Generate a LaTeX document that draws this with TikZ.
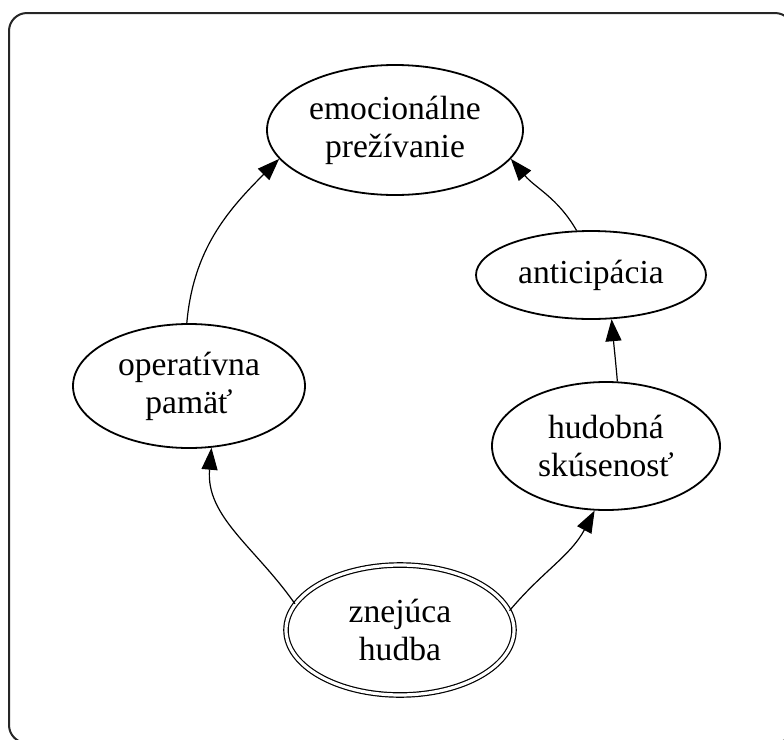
\documentclass[tikz,border=0pt]{standalone}
\usepackage{fontspec}
\setmainfont{Liberation Serif}
\usetikzlibrary{shapes.geometric,arrows.meta}

\begin{document}
\begin{tikzpicture}[x=0.5pt,y=-0.5pt,
	idea/.style={ellipse, draw, line width=0.9pt, inner sep=0pt, align=center,
		font=\fontsize{16.8pt}{19pt}\selectfont},
	link/.style={line width=0.6pt, -{Triangle[length=11pt,width=8pt]}}]
		\clip (0,0) rectangle (784,740);
		\draw[line width=1pt, color=black!85, rounded corners=9pt] (9,13) rectangle (793,743);
		% Knoten
		\node[idea, minimum width=128pt, minimum height=65pt] (em) at (395,130) {emocionálne\\prežívanie};
		\node[idea, minimum width=116pt, minimum height=62pt] (op) at (189,386) {operatívna\\pamäť};
		\node[idea, minimum width=115pt, minimum height=44pt] (an) at (591,275) {anticipácia};
		\node[idea, minimum width=114pt, minimum height=64pt] (hs) at (606,446) {hudobná\\skúsenosť};
		\node[idea, double, line width=0.6pt, double distance=1.6pt,
			minimum width=114pt, minimum height=65pt] (zh) at (400,630) {znejúca\\hudba};
		% Spojenia
		\draw[link] (zh.166) to[out=125,in=-95] (op.-70);
		\draw[link] (zh.10) to[out=50,in=-118] (hs.-100);
		\draw[link] (hs.80) to[out=95,in=-85] (an.-65);
		\draw[link] (an.108) to[out=120,in=-50] (em.-14);
		\draw[link] (op.92) to[out=85,in=-135] (em.194);
	\end{tikzpicture}
\end{document}
